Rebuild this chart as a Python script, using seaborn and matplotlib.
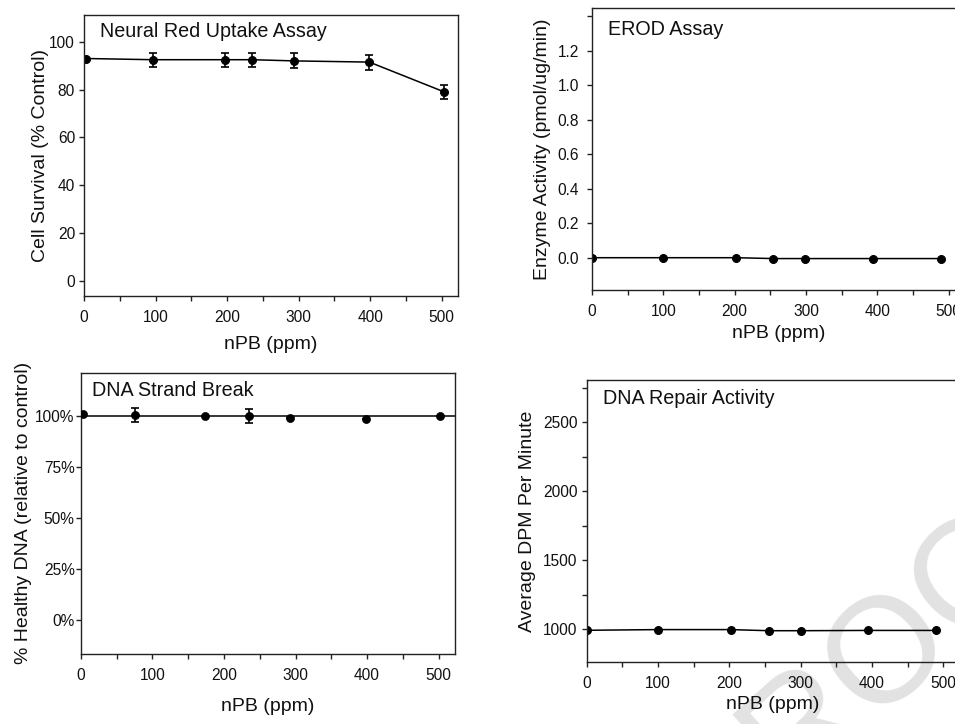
import matplotlib
matplotlib.use('Agg')
from matplotlib import pyplot as plt
from matplotlib.ticker import FixedLocator, NullFormatter
import seaborn as sns

# Neural red uptake
dose_nr = [3, 96, 197, 235, 294, 399, 504]
survival = [93.0, 92.5, 92.5, 92.5, 92.0, 91.5, 79.0]
survival_err = [0, 3.0, 3.0, 3.0, 3.1, 3.1, 3.1]

# EROD
dose_erod = [0, 100, 202, 254, 299, 394, 489]
erod = [0.0, 0.0, 0.0, -0.005, -0.005, -0.005, -0.005]

# DNA strand break
dose_dna = [3, 76, 173, 235, 293, 398, 502]
healthy = [100.8, 100.3, 99.8, 99.8, 99.0, 98.4, 99.8]
healthy_err = [0, 3.6, 0, 3.5, 0, 0, 0]

# DNA repair
dose_rep = [0, 100, 202, 255, 300, 395, 490]
dpm = [993, 998, 998, 990, 990, 992, 992]

x_major = [0, 100, 200, 300, 400, 500]
x_minor = [50, 150, 250, 350, 450]

sns.set_theme(style='ticks')
plt.rcParams['font.family'] = ['Liberation Sans', 'DejaVu Sans']
plt.rcParams['axes.edgecolor'] = '#222222'
plt.rcParams['axes.linewidth'] = 1.0

fig = plt.figure(figsize=(9.55, 7.24), dpi=100)
fig.patch.set_facecolor('white')

# watermark
fig.text(0.930, 0.103, 'PROOF', fontsize=108, color='#e2e2e2', rotation=42,
         ha='center', va='center', rotation_mode='anchor', zorder=-5)


def style_axes(ax, yticks, ylabels, ylim, title, ylabel, tpos, ylab_x, xlab_y, ypad):
    ax.set_facecolor('none')
    ax.set_xlim(0, 523)
    ax.set_ylim(*ylim)
    ax.xaxis.set_major_locator(FixedLocator(x_major))
    ax.xaxis.set_minor_locator(FixedLocator(x_minor))
    ax.xaxis.set_minor_formatter(NullFormatter())
    ax.set_xticklabels([str(v) for v in x_major])
    ax.set_yticks(yticks)
    ax.set_yticklabels(ylabels)
    ax.tick_params(axis='both', which='both', direction='out', length=3.5,
                   width=1, color='#222222', labelsize=11.2, labelcolor='#111111')
    ax.tick_params(axis='x', which='major', pad=6.5)
    ax.tick_params(axis='y', which='major', pad=ypad)
    ax.set_xlabel('nPB (ppm)', fontsize=14, color='#111111')
    ax.set_ylabel(ylabel, fontsize=14, color='#111111')
    ax.yaxis.set_label_coords(ylab_x, 0.5)
    ax.xaxis.set_label_coords(0.5, xlab_y)
    ax.text(tpos[0], tpos[1], title, transform=ax.transAxes, fontsize=14.2,
            ha='left', va='center', color='#111111')
    for s in ax.spines.values():
        s.set_visible(True)


mk = dict(marker='o', markersize=5.7, markeredgecolor='black', color='black', linewidth=1.1)

# top left
ax1 = fig.add_axes([0.0880, 0.5912, 0.3916, 0.3881])
sns.lineplot(x=dose_nr, y=survival, ax=ax1, **mk)
ax1.errorbar(dose_nr, survival, yerr=survival_err, fmt='none', ecolor='black',
             elinewidth=1.2, capsize=3, capthick=1.2)
style_axes(ax1, [0, 20, 40, 60, 80, 100], ['0', '20', '40', '60', '80', '100'],
           (-6.3, 111.2), 'Neural Red Uptake Assay', 'Cell Survival (% Control)',
           (0.043, 0.941), -0.094, -0.142, 3)

# top right
ax2 = fig.add_axes([0.6199, 0.5994, 0.3906, 0.3895])
sns.lineplot(x=dose_erod, y=erod, ax=ax2, **mk)
style_axes(ax2, [0.0, 0.2, 0.4, 0.6, 0.8, 1.0, 1.2, 1.4],
           ['0.0', '0.2', '0.4', '0.6', '0.8', '1.0', '1.2', ''],
           (-0.1875, 1.448), 'EROD Assay', 'Enzyme Activity (pmol/ug/min)',
           (0.042, 0.923), -0.111, -0.124, 6)

# bottom left
ax3 = fig.add_axes([0.0848, 0.0967, 0.3916, 0.3885])
ax3.axhline(100, color='black', linewidth=1.1)
sns.scatterplot(x=dose_dna, y=healthy, ax=ax3, color='black', s=34, edgecolor='black', zorder=3)
ax3.errorbar(dose_dna, healthy, yerr=healthy_err, fmt='none', ecolor='black',
             elinewidth=1.2, capsize=3, capthick=1.2)
style_axes(ax3, [0, 25, 50, 75, 100], ['0%', '25%', '50%', '75%', '100%'],
           (-16.8, 121.1), 'DNA Strand Break', '% Healthy DNA (relative to control)',
           (0.030, 0.936), -0.131, -0.156, 1)

# bottom right
ax4 = fig.add_axes([0.6143, 0.0852, 0.3906, 0.3899])
sns.lineplot(x=dose_rep, y=dpm, ax=ax4, **mk)
style_axes(ax4, [1000, 1500, 2000, 2500], ['1000', '1500', '2000', '2500'],
           (761, 2806), 'DNA Repair Activity', 'Average DPM Per Minute',
           (0.043, 0.935), -0.137, -0.120, 3)
ax4.yaxis.set_minor_locator(FixedLocator([1250, 1750, 2250, 2750]))
ax4.yaxis.set_minor_formatter(NullFormatter())

fig.savefig('out.png', dpi=100)
